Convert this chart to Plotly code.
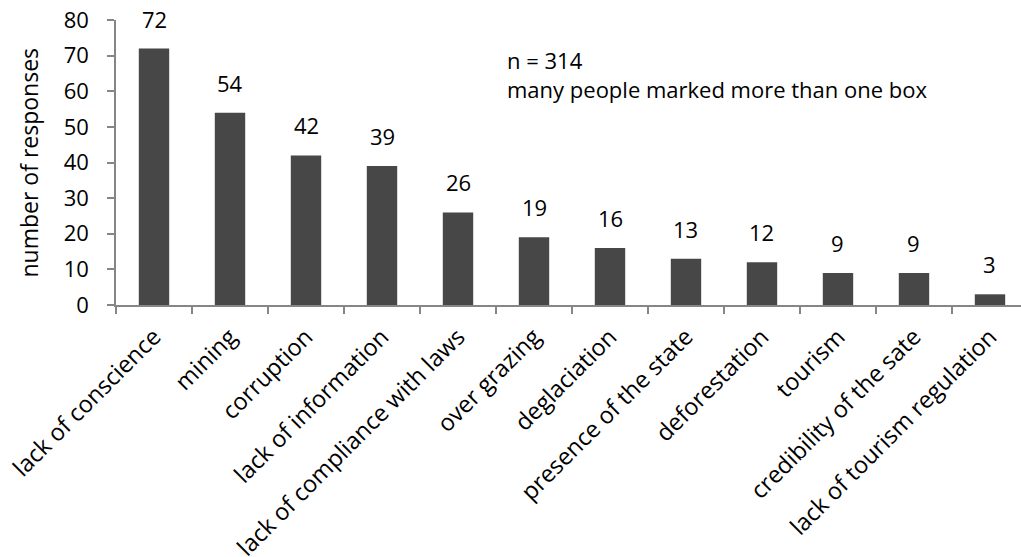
import plotly.graph_objects as go

categories = ["lack of conscience", "mining", "corruption", "lack of information",
              "lack of compliance with laws", "over grazing", "deglaciation",
              "presence of the state", "deforestation", "tourism",
              "credibility of the sate", "lack of tourism regulation"]
responses = [72, 54, 42, 39, 26, 19, 16, 13, 12, 9, 9, 3]
y_ticks = [0, 10, 20, 30, 40, 50, 60, 70, 80]
note_lines = ["n = 314", "many people marked more than one box"]

FONT = "Open Sans"
FS = 22
BLACK = "#000000"
fig = go.Figure()
fig.add_trace(go.Bar(
    x=categories, y=responses,
    marker=dict(color="#474747", line=dict(width=0)),
    width=0.4,
    cliponaxis=False,
    hoverinfo="skip",
))

# value labels above bars
for c, v in zip(categories, responses):
    fig.add_annotation(x=c, y=v, xref="x", yref="y", text=str(v), showarrow=False,
                       xanchor="center", yanchor="bottom", yshift=13,
                       font=dict(family=FONT, size=FS, color=BLACK))

fig.add_annotation(x=4.62, y=68.8, xref="x", yref="y", text=note_lines[0],
                   showarrow=False, xanchor="left", yanchor="middle",
                   font=dict(family=FONT, size=FS, color=BLACK))
fig.add_annotation(x=4.62, y=60.6, xref="x", yref="y", text=note_lines[1],
                   showarrow=False, xanchor="left", yanchor="middle",
                   font=dict(family=FONT, size=FS, color=BLACK))

plot_w = 1021 - 116
fig.add_annotation(x=(28 - 116) / plot_w, y=0.5, xref="paper", yref="paper",
                   xanchor="center", yanchor="middle",
                   text="number of responses", showarrow=False, textangle=-90,
                   font=dict(family=FONT, size=23, color=BLACK))

fig.update_layout(
    width=1021, height=557,
    margin=dict(l=116, r=0, t=20, b=252),
    paper_bgcolor="white", plot_bgcolor="white",
    showlegend=False,
    font=dict(family=FONT, size=FS, color=BLACK),
    xaxis=dict(
        type="category",
        range=[-0.5, 11.408],
        automargin=False,
        showgrid=False, zeroline=False,
        showline=True, linecolor="#868686", linewidth=1.5,
        ticks="outside", ticklen=7, tickcolor="#868686", tickwidth=1.5,
        tickson="boundaries",
        tickangle=-45,
        ticklabelstandoff=7,
        tickfont=dict(family=FONT, size=23.5, color=BLACK),
    ),
    yaxis=dict(
        range=[0, 80],
        tickvals=y_ticks,
        automargin=False,
        showgrid=False, zeroline=False,
        showline=True, linecolor="#868686", linewidth=1.5,
        ticks="outside", ticklen=7, tickcolor="#868686", tickwidth=1.5,
        ticklabelstandoff=14,
        tickfont=dict(family=FONT, size=FS, color=BLACK),
    ),
)

fig.write_html("out.html", config={"displayModeBar": False},
               post_script="document.body.style.margin='0px';")
